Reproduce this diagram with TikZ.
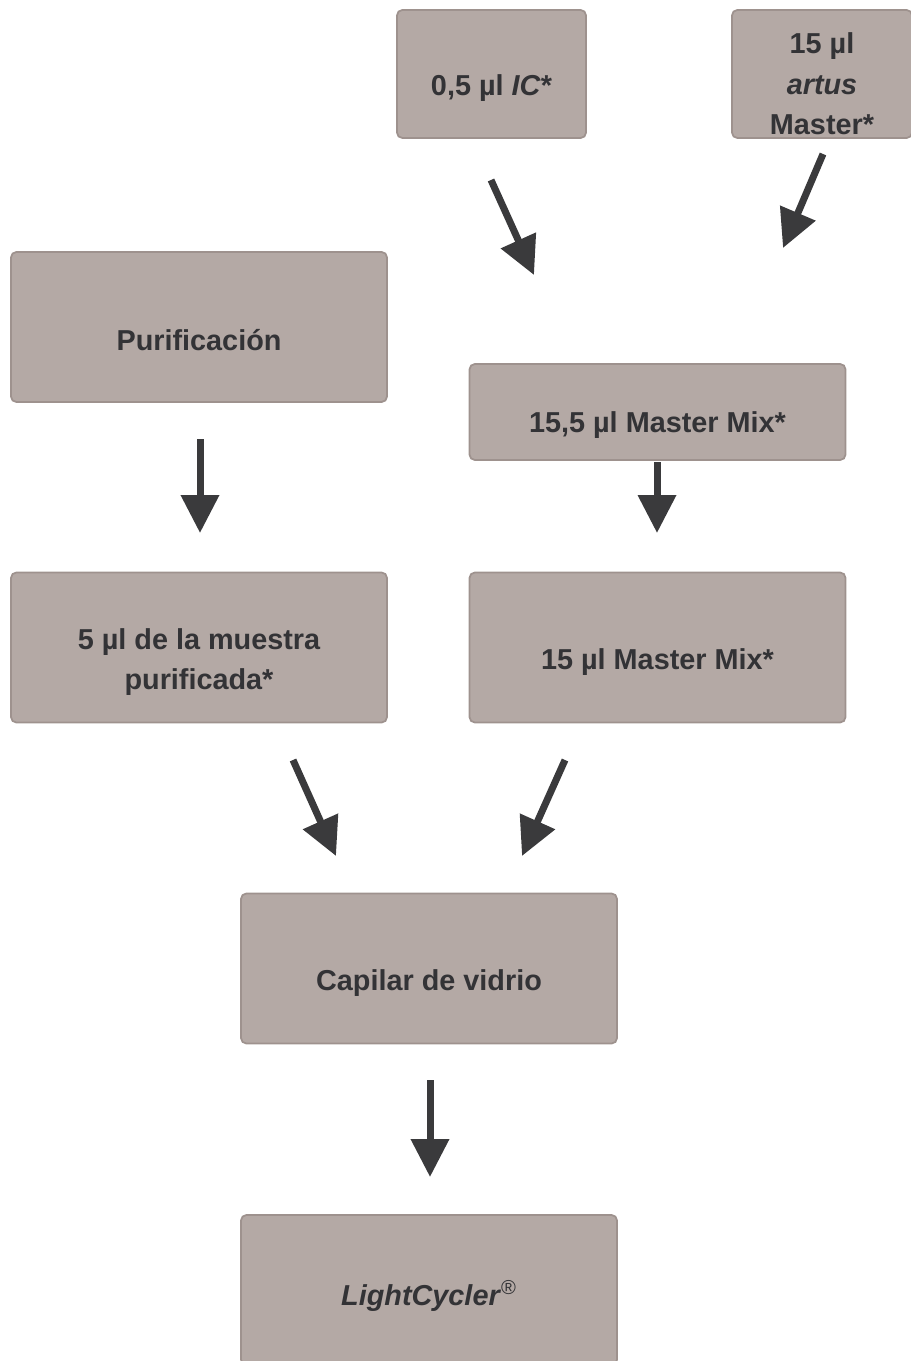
\documentclass[tikz,border=0pt]{standalone}
\usepackage{fontspec}
\setmainfont{Liberation Sans}
\usepackage{xcolor}
\usetikzlibrary{arrows.meta,positioning,calc}
\definecolor{boxfill}{HTML}{B4A9A5}
\definecolor{boxline}{HTML}{9E928E}
\definecolor{inkgray}{HTML}{333336}
\definecolor{arrowgray}{HTML}{3A3A3C}

\begin{document}
\begin{tikzpicture}[
    x=0.02cm, y=-0.02cm,
    stepbox/.style={rectangle, draw=boxline, line width=1pt, fill=boxfill, rounded corners=3pt, align=center, inner sep=0pt, text=inkgray, text height=25pt, text depth=0pt, font=\bfseries\fontsize{16.4}{23}\selectfont},
    wide/.style={minimum width=7.52cm, minimum height=3cm},
    small/.style={minimum width=3.78cm, minimum height=2.56cm},
    flow/.style={draw=arrowgray, line width=0.14cm, -{Triangle[length=0.76cm, width=0.74cm]}}
]
\useasboundingbox (0,0) rectangle (910,1361);

% reactivos
\node[stepbox, small] (ic) at (491.5,74) {0,5 µl \textit{IC}*};
\node[stepbox, small, minimum width=3.6cm, text height=69pt] (artus) at (822,74) {15 µl\\ \textit{artus}\\ Master*};

% preparacion
\node[stepbox, wide, text height=27pt] (purif) at (199,327) {Purificación};
\node[stepbox, wide, minimum height=1.92cm, text height=23pt] (mmix155) at (657.5,412) {15,5 µl Master Mix*};
\node[stepbox, wide, text height=48pt] (muestra) at (199,647.5) {5 µl de la muestra\\ purificada*};
\node[stepbox, wide] (mmix15) at (657.5,647.5) {15 µl Master Mix*};

% capilar y equipo
\node[stepbox, wide] (capilar) at (429,968.5) {Capilar de vidrio};
\node[stepbox, wide, text height=18pt] (cycler) at (429,1290) {\textit{LightCycler}\textsuperscript{\mdseries®}};

% puntos de las flechas
\coordinate (icA) at (491,180);   \coordinate (icB) at (534,275);
\coordinate (arA) at (823,154);   \coordinate (arB) at (783,248);
\coordinate (puA) at (200,439);   \coordinate (puB) at (200,533);
\coordinate (mmA) at (657,462);   \coordinate (mmB) at (657,533);
\coordinate (muA) at (293,760);   \coordinate (muB) at (336,856);
\coordinate (m15A) at (565,760);  \coordinate (m15B) at (522,856);
\coordinate (caA) at (430,1080);  \coordinate (caB) at (430,1177);

\draw[flow] (icA) -- (icB);
\draw[flow] (arA) -- (arB);
\draw[flow] (puA) -- (puB);
\draw[flow] (mmA) -- (mmB);
\draw[flow] (muA) -- (muB);
\draw[flow] (m15A) -- (m15B);
\draw[flow] (caA) -- (caB);

\end{tikzpicture}
\end{document}
